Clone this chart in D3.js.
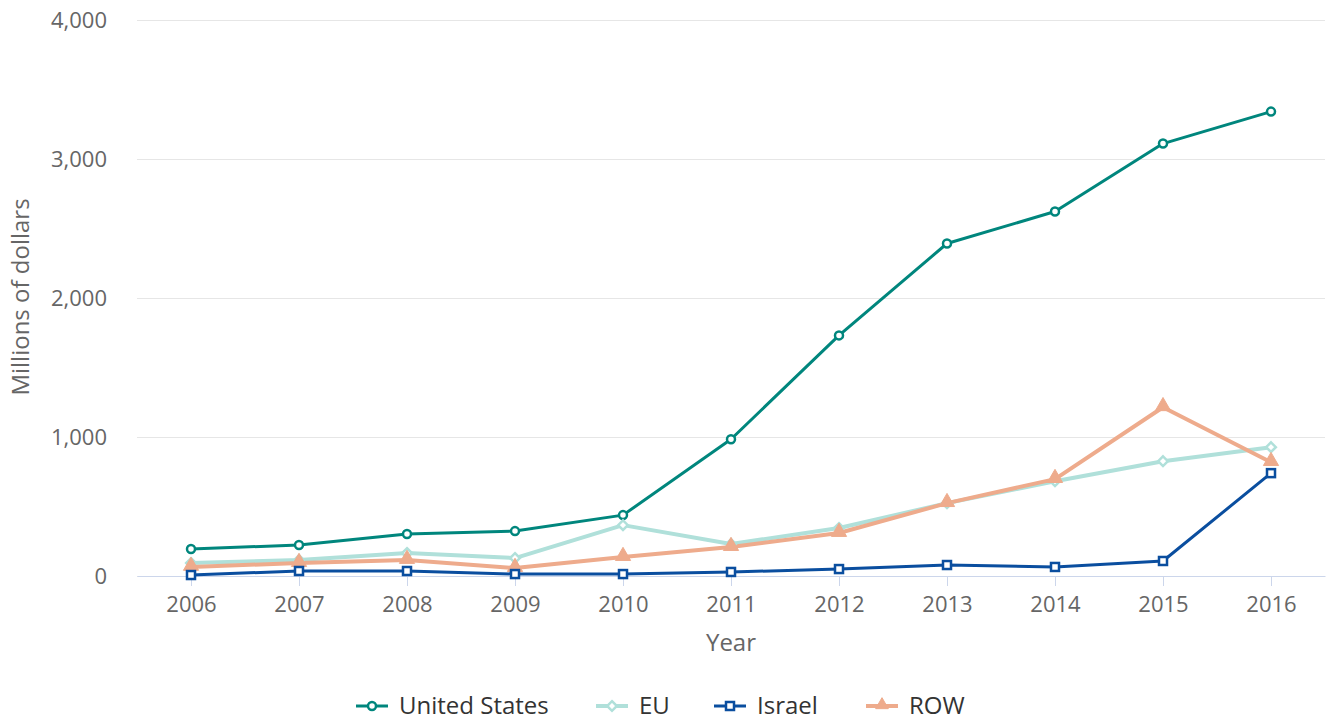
<!DOCTYPE html>
<html>
<head>
<meta charset="utf-8">
<script src="https://cdn.jsdelivr.net/npm/d3@7"></script>
<style>
  body { margin: 0; background: #fff; font-family: "Open Sans", sans-serif; }
</style>
</head>
<body>
<svg class="chart"></svg>
<script>
const years = [2006, 2007, 2008, 2009, 2010, 2011, 2012, 2013, 2014, 2015, 2016];
const unitedStates = [194, 223, 302, 323, 438, 984, 1731, 2392, 2622, 3111, 3341];
const eu = [93, 115, 165, 129, 366, 230, 345, 524, 682, 826, 927];
const israel = [7, 36, 36, 14, 14, 29, 50, 79, 65, 108, 740];
const row = [65, 93, 115, 57, 136, 208, 309, 524, 697, 1214, 819];
const yTicks = [0, 1000, 2000, 3000, 4000];

const series = [
  {name: "United States", values: unitedStates, color: "#00867d", width: 3, marker: "circle"},
  {name: "EU", values: eu, color: "#b0e0da", width: 4, marker: "diamond"},
  {name: "ROW", values: row, color: "#eeab8c", width: 4, marker: "triangle"},
  {name: "Israel", values: israel, color: "#0a4e9f", width: 3, marker: "square"}
];
const legendOrder = ["United States", "EU", "Israel", "ROW"];

const width = 1331, height = 722;
const margin = { top: 20, right: 6, bottom: 146, left: 137 };
const innerW = width - margin.left - margin.right;
const innerH = height - margin.top - margin.bottom;

const x = d3.scalePoint()
  .domain(years)
  .range([0, innerW])
  .padding(0.5);

const y = d3.scaleLinear()
  .domain([0, 4000])
  .range([innerH, 0]);

const svg = d3.select('.chart')
  .attr('width', width)
  .attr('height', height);

const chart = svg.append('g')
  .attr('transform', 'translate(' + margin.left + ',' + margin.top + ')');

// grid + y labels
const yAxis = d3.axisLeft(y)
  .tickValues(yTicks)
  .tickSize(-innerW)
  .tickPadding(30)
  .tickFormat(d3.format(','));

chart.append('g')
  .attr('class', 'y axis')
  .call(yAxis)
  .call(g => g.select('.domain').remove())
  .call(g => g.selectAll('line').attr('stroke', '#e6e6e6'))
  .call(g => g.selectAll('text')
    .attr('fill', '#666')
    .style('font-size', '22px')
    .style('font-family', '"Open Sans", sans-serif'));

// x axis
const xAxis = d3.axisBottom(x)
  .tickSize(10)
  .tickPadding(10)
  .tickSizeOuter(0);

chart.append('g')
  .attr('class', 'x axis')
  .attr('transform', 'translate(0,' + innerH + ')')
  .call(xAxis)
  .call(g => g.select('.domain').attr('stroke', '#ccd6eb'))
  .call(g => g.selectAll('line').attr('stroke', '#ccd6eb'))
  .call(g => g.selectAll('text')
    .attr('fill', '#666')
    .style('font-size', '22px')
    .style('font-family', '"Open Sans", sans-serif'));

// axis titles
svg.append('text')
  .attr('x', margin.left + innerW / 2)
  .attr('y', 651)
  .attr('text-anchor', 'middle')
  .attr('fill', '#666')
  .style('font-size', '24px')
  .text('Year');

svg.append('text')
  .attr('transform', 'translate(29,297) rotate(-90)')
  .attr('text-anchor', 'middle')
  .attr('fill', '#666')
  .style('font-size', '24px')
  .text('Millions of dollars');

const line = d3.line()
  .x((d, i) => x(years[i]))
  .y(d => y(d));

function drawMarker(g, type, color, size, triArea) {
  if (type === 'circle') {
    g.append('circle').attr('r', size).attr('fill', '#fff')
      .attr('stroke', color).attr('stroke-width', 2.5);
  } else if (type === 'square') {
    g.append('rect').attr('x', -size).attr('y', -size)
      .attr('width', size * 2).attr('height', size * 2)
      .attr('fill', '#fff').attr('stroke', color).attr('stroke-width', 2.5);
  } else if (type === 'diamond') {
    g.append('path').attr('d', d3.symbol(d3.symbolDiamond2, 60)())
      .attr('fill', '#fff').attr('stroke', color).attr('stroke-width', 2.5);
  } else {
    g.append('path').attr('d', d3.symbol(d3.symbolTriangle, triArea)())
      .attr('transform', 'translate(0,-1)')
      .attr('fill', color).attr('stroke', color).attr('stroke-width', 1);
  }
}

series.forEach(s => {
  chart.append('path')
    .datum(s.values)
    .attr('fill', 'none')
    .attr('stroke', s.color)
    .attr('stroke-width', s.width)
    .attr('stroke-linejoin', 'round')
    .attr('stroke-linecap', 'round')
    .attr('d', line);
});

series.forEach(s => {
  s.values.forEach((v, i) => {
    const g = chart.append('g')
      .attr('transform', 'translate(' + x(years[i]) + ',' + y(v) + ')');
    drawMarker(g, s.marker, s.color, 4, 100);
  });
});

// legend
const legendX = [356, 596, 714, 866];
const legend = svg.append('g').attr('transform', 'translate(0,706)');
legendOrder.forEach((name, i) => {
  const s = series.find(d => d.name === name);
  const item = legend.append('g').attr('transform', 'translate(' + legendX[i] + ',0)');
  item.append('line')
    .attr('x1', 0).attr('x2', 32)
    .attr('stroke', s.color).attr('stroke-width', s.width);
  const m = item.append('g').attr('transform', 'translate(16,0)');
  drawMarker(m, s.marker, s.color, 4, 70);
  item.append('text')
    .attr('x', 43)
    .attr('dy', '0.35em')
    .attr('fill', '#333')
    .style('font-size', '24px')
    .text(name);
});
</script>
</body>
</html>
